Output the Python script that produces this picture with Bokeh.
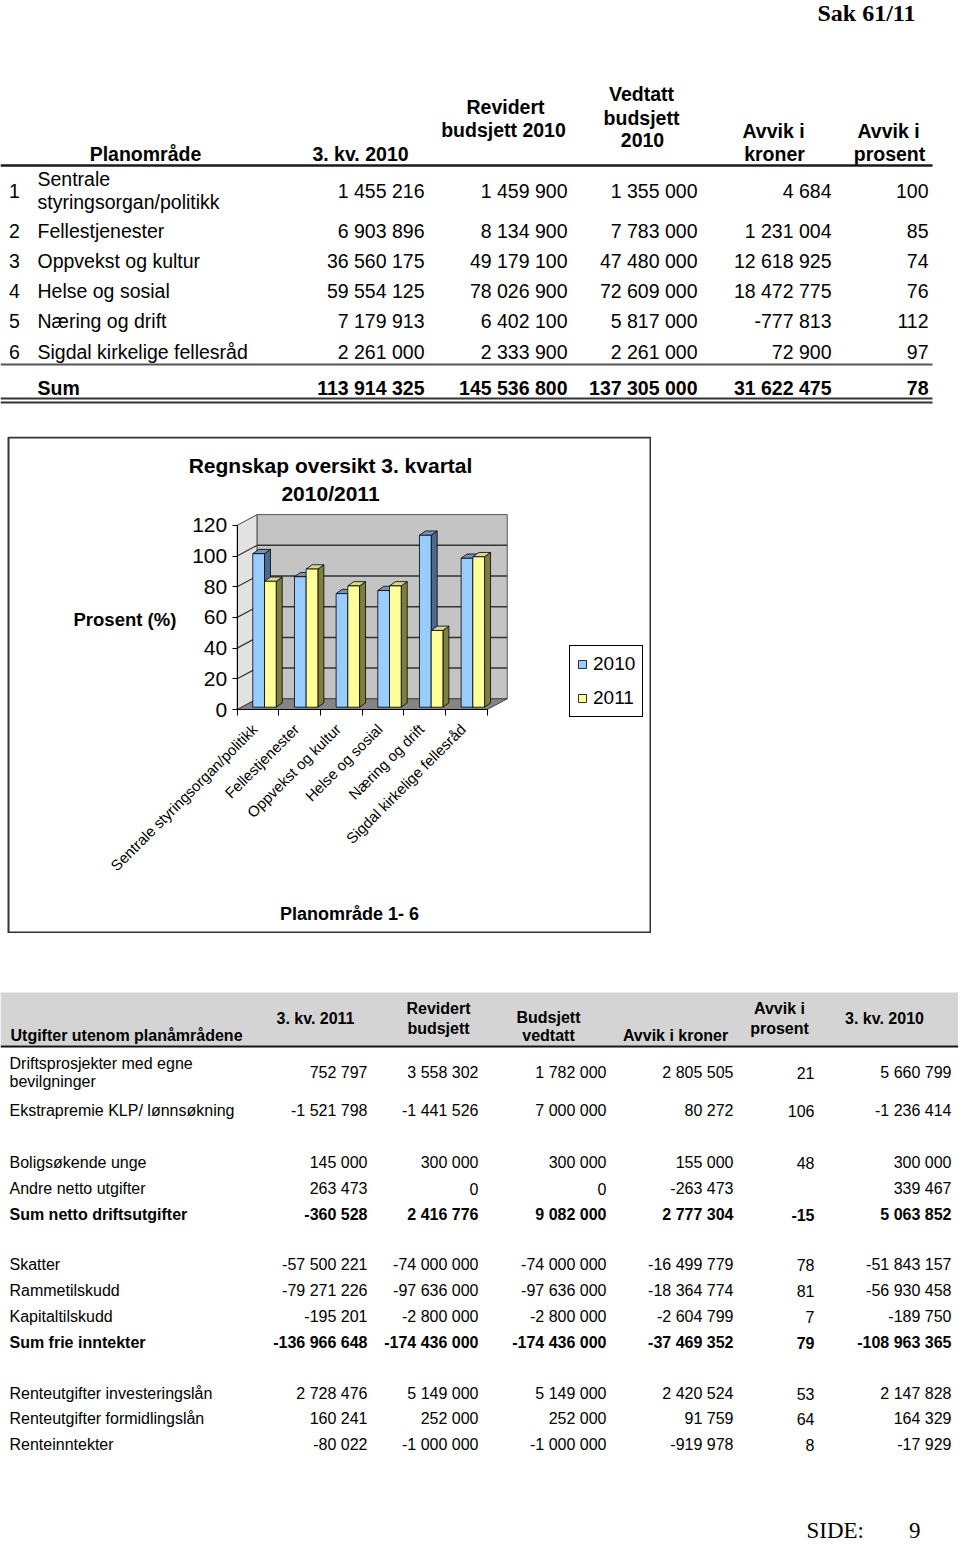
from bokeh.plotting import figure
from bokeh.models import Range1d, FixedTicker, Label, Legend, LegendItem, ColumnDataSource
from bokeh.layouts import column
from bokeh.embed import file_html
from bokeh.resources import INLINE
from bokeh.core.properties import value

FONT = "Liberation Sans"
SERIF = "Liberation Serif"

# ---------------- data: table 1 (planområder) ----------------
omr_nr = ["1", "2", "3", "4", "5", "6"]
omr_names = ["Sentrale styringsorgan/politikk", "Fellestjenester", "Oppvekst og kultur",
             "Helse og sosial", "Næring og drift", "Sigdal kirkelige fellesråd"]
kv3_2010 = [1455216, 6903896, 36560175, 59554125, 7179913, 2261000]
rev_bud_2010 = [1459900, 8134900, 49179100, 78026900, 6402100, 2333900]
vedt_bud_2010 = [1355000, 7783000, 47480000, 72609000, 5817000, 2261000]
avvik_kroner = [4684, 1231004, 12618925, 18472775, -777813, 72900]
avvik_prosent = [100, 85, 74, 76, 112, 97]
sum_label = "Sum"
sum_values = [113914325, 145536800, 137305000, 31622475, 78]

# ---------------- data: chart ----------------
chart_categories = omr_names
pct_2010 = [100, 85, 74, 76, 112, 97]
pct_2011 = [82, 90, 79, 79, 50, 98]
series_names = ["2010", "2011"]
y_ticks = [0, 20, 40, 60, 80, 100, 120]

# ---------------- data: table 2 ----------------
ut_labels = ["Driftsprosjekter med egne bevilgninger", "Ekstrapremie KLP/ lønnsøkning",
             "Boligsøkende unge", "Andre netto utgifter", "Sum  netto driftsutgifter",
             "Skatter", "Rammetilskudd", "Kapitaltilskudd", "Sum frie inntekter",
             "Renteutgifter investeringslån", "Renteutgifter formidlingslån", "Renteinntekter"]
ut_bold = [False, False, False, False, True, False, False, False, True, False, False, False]
ut_kv3_2011 = [752797, -1521798, 145000, 263473, -360528, -57500221, -79271226, -195201,
               -136966648, 2728476, 160241, -80022]
ut_revidert = [3558302, -1441526, 300000, 0, 2416776, -74000000, -97636000, -2800000,
               -174436000, 5149000, 252000, -1000000]
ut_vedtatt = [1782000, 7000000, 300000, 0, 9082000, -74000000, -97636000, -2800000,
              -174436000, 5149000, 252000, -1000000]
ut_avvik_kr = [2805505, 80272, 155000, -263473, 2777304, -16499779, -18364774, -2604799,
               -37469352, 2420524, 91759, -919978]
ut_avvik_pct = [21, 106, 48, None, -15, 78, 81, 7, 79, 53, 64, 8]
ut_kv3_2010 = [5660799, -1236414, 300000, 339467, 5063852, -51843157, -56930458, -189750,
               -108963365, 2147828, 164329, -17929]


def fmt(v):
    if v is None:
        return ""
    return f"{v:,}".replace(",", " ")


def put(p, xs, ys, texts, align="left", size="16px", style="normal", font=FONT, color="#000000"):
    src = ColumnDataSource(dict(x=list(xs), y=list(ys), t=list(texts)))
    p.text(x="x", y="y", text="t", source=src, text_align=align, text_baseline="middle",
           text_font=value(font), text_font_size=size, text_font_style=style, text_color=color)


def no_align(p):
    try:
        p.frame_align = False
    except Exception:
        pass


def blank(width, height, xr, yr):
    p = figure(frame_width=width, frame_height=height, x_range=Range1d(*xr), y_range=Range1d(*yr),
               output_backend="svg", toolbar_location=None, x_axis_location=None,
               y_axis_location=None, min_border=0)
    p.grid.visible = False
    p.outline_line_color = None
    no_align(p)
    return p


PAGE_W = 958

# ================= top section =================
A = blank(PAGE_W, 436, (0, PAGE_W), (436, 0))
put(A, [915], [12], ["Sak 61/11"], align="right", size="24px", style="bold", font=SERIF)

T1 = "19.5px"
hdr_text = ["Planområde", "3. kv. 2010", "Revidert", "budsjett 2010", "Vedtatt", "budsjett",
            "2010", "Avvik i", "kroner", "Avvik i", "prosent"]
hdr_x = [145, 360, 505, 503, 641, 641, 642, 773, 774, 888, 889]
hdr_y = [153, 153, 106, 129, 93, 117, 139, 130, 153, 130, 153]
put(A, hdr_x, hdr_y, hdr_text, align="center", size=T1, style="bold")

row_y = [190, 230, 260, 290, 320, 351]
num_right = [424, 567, 697, 831, 928]
put(A, [14] * 6, row_y, omr_nr, align="center", size=T1)
lab_y = list(row_y)
lab_t = list(omr_names)
first = omr_names[0].split(" ")
lab_t[0] = first[0]
lab_y[0] = 178
lab_t.append(first[1])
lab_y.append(201)
put(A, [37] * len(lab_t), lab_y, lab_t, size=T1)
cols1 = [kv3_2010, rev_bud_2010, vedt_bud_2010, avvik_kroner, avvik_prosent]
for xr, col in zip(num_right, cols1):
    put(A, [xr] * len(col), row_y, [fmt(v) for v in col], align="right", size=T1)
sum_y = 387
put(A, [37], [sum_y], [sum_label], size=T1, style="bold")
put(A, num_right, [sum_y] * 5, [fmt(v) for v in sum_values], align="right", size=T1, style="bold")

A.segment(x0=[0], y0=[165], x1=[932], y1=[165], line_color="#1a1a1a", line_width=2.5)
A.segment(x0=[0], y0=[364], x1=[932], y1=[364], line_color="#555555", line_width=2)
A.segment(x0=[0, 0], y0=[398, 402], x1=[932, 932], y1=[398, 402], line_color="#333333", line_width=2)

# ================= chart =================
CAT_PX = 41.67          # px per category
VAL_PX = 1.535          # px per percent
DX = 20 / CAT_PX        # wall depth (x)
DY = 10.7 / VAL_PX      # wall depth (y)
BX0 = 0.374
BW = 0.281
BY = 1.5
SDX = 6 / CAT_PX
SDY = 4.3 / VAL_PX
LABEL_POS = 0.42        # category-label anchor within a category slot
ymax = y_ticks[-1]
ncat = len(chart_categories)

# chart-area pixel helpers (page pixels -> data units); chart section spans y 436..933
X0_PX, Y0_PX = 236.7, 709.0
CH_TOP, CH_BOT, CH_W = 436, 933, 651


def cx(px):
    return (px - X0_PX) / CAT_PX


def cy(py):
    return (Y0_PX - py) / VAL_PX


B = figure(width=CH_W, height=CH_BOT - CH_TOP,
           x_range=Range1d(cx(0), cx(CH_W)), y_range=Range1d(cy(CH_BOT), cy(CH_TOP)),
           output_backend="svg", toolbar_location=None, title=None, min_border=0)
B.grid.visible = False
B.outline_line_color = None
B.background_fill_color = "white"
no_align(B)

# outer chart box
B.quad(left=[cx(8)], right=[cx(650)], top=[cy(437)], bottom=[cy(932)], fill_alpha=0,
       line_color="#333333", line_width=2)

# walls and floor
B.patch(x=[0, DX, DX, 0], y=[0, DY, ymax + DY, ymax], fill_color="#e2e2e2",
        line_color="#444444", line_width=1)
B.quad(left=[DX], right=[ncat + DX], bottom=[DY], top=[ymax + DY], fill_color="#c4c4c4",
       line_color="#555555", line_width=1)
B.patch(x=[0, ncat, ncat + DX, DX], y=[0, 0, DY, DY], fill_color="#858585",
        line_color="#444444", line_width=1)
levels = y_ticks[1:-1]
B.segment(x0=[DX] * len(levels), y0=[l + DY for l in levels], x1=[ncat + DX] * len(levels),
          y1=[l + DY for l in levels], line_color="#333333", line_width=1.5)
B.segment(x0=[0] * len(levels), y0=levels, x1=[DX] * len(levels),
          y1=[l + DY for l in levels], line_color="#333333", line_width=1.2)

colors = {
    0: ("#99ccff", "#6f95bd", "#4b6b8e"),
    1: ("#ffff99", "#dada80", "#7e7e40"),
}
xs, ys, fc = [], [], []
front_index = {}
for i in range(ncat):
    for s, vals in enumerate([pct_2010, pct_2011]):
        v = vals[i]
        xl = i + BX0 + s * BW
        xr = xl + BW
        top = v + BY
        front, topc, side = colors[s]
        xs.append([xr, xr + SDX, xr + SDX, xr]); ys.append([BY, BY + SDY, top + SDY, top]); fc.append(side)
        xs.append([xl, xr, xr + SDX, xl + SDX]); ys.append([top, top, top + SDY, top + SDY]); fc.append(topc)
        xs.append([xl, xr, xr, xl]); ys.append([BY, BY, top, top]); fc.append(front)
        front_index.setdefault(s, len(fc) - 1)
bars = B.patches(xs="xs", ys="ys", fill_color="fc", line_color="#000000", line_width=0.8,
                 source=ColumnDataSource(dict(xs=xs, ys=ys, fc=fc)))

# axes (drawn at the floor front / left wall edge)
B.yaxis.fixed_location = 0
B.xaxis.fixed_location = 0
B.yaxis.ticker = FixedTicker(ticks=y_ticks, minor_ticks=[])
B.yaxis.bounds = (0, ymax)
B.yaxis.major_tick_out = 5
B.yaxis.major_tick_in = 0
B.yaxis.major_label_standoff = 5
B.yaxis.major_label_text_font = FONT
B.yaxis.major_label_text_font_size = "21px"
B.yaxis.major_label_text_color = "black"
B.yaxis.axis_line_color = "black"

label_ticks = [i + LABEL_POS for i in range(ncat)]
B.xaxis.ticker = FixedTicker(ticks=label_ticks, minor_ticks=list(range(ncat + 1)))
B.xaxis.major_label_overrides = {t: n for t, n in zip(label_ticks, chart_categories)}
B.xaxis.bounds = (0, ncat)
B.xaxis.major_tick_out = 0
B.xaxis.major_tick_in = 0
B.xaxis.minor_tick_out = 6
B.xaxis.minor_tick_in = 0
B.xaxis.minor_tick_line_color = "black"
B.xaxis.major_label_orientation = 0.785398
B.xaxis.major_label_standoff = 11
B.xaxis.major_label_text_font = FONT
B.xaxis.major_label_text_font_size = "15px"
B.xaxis.major_label_text_color = "black"
B.xaxis.axis_line_color = "black"

for txt, py in [("Regnskap oversikt 3. kvartal", 465), ("2010/2011", 493)]:
    B.add_layout(Label(x=cx(330), y=cy(py), text=txt, text_align="center", text_baseline="middle",
                       text_font=FONT, text_font_size="21px", text_font_style="bold",
                       text_color="black"))
B.add_layout(Label(x=cx(73), y=cy(619), text="Prosent (%)", text_align="left", text_baseline="middle",
                   text_font=FONT, text_font_size="18.5px", text_font_style="bold",
                   text_color="black"))
B.add_layout(Label(x=cx(349), y=cy(913), text="Planområde 1- 6", text_align="center",
                   text_baseline="middle", text_font=FONT, text_font_size="18px",
                   text_font_style="bold", text_color="black"))

leg = Legend(items=[LegendItem(label=series_names[0], renderers=[bars], index=front_index[0]),
                    LegendItem(label=series_names[1], renderers=[bars], index=front_index[1])],
             location=(569, CH_BOT - 717), glyph_width=10, glyph_height=10, label_height=22,
             label_standoff=6, spacing=12, padding=7, margin=0,
             label_text_font=FONT, label_text_font_size="19px", label_text_color="black",
             border_line_color="black", border_line_width=1.2, border_line_alpha=1,
             background_fill_alpha=1)
B.add_layout(leg)

# ================= bottom section =================
C = blank(PAGE_W, 610, (0, PAGE_W), (1543, 933))
C.quad(left=[0], right=[958], top=[992], bottom=[1045], fill_color="#d4d4d4", line_color=None)
C.segment(x0=[0], y0=[1046], x1=[958], y1=[1046], line_color="#111111", line_width=2)

put(C, [10], [1035], ["Utgifter utenom planåmrådene"], size="16px", style="bold")
h2_text = ["3. kv. 2011", "Revidert", "budsjett", "Budsjett", "vedtatt", "Avvik i kroner",
           "Avvik i", "prosent", "3. kv. 2010"]
h2_x = [315, 438, 438, 548, 548, 675, 779, 779, 884]
h2_y = [1018, 1008, 1028, 1017, 1035, 1035, 1008, 1028, 1018]
put(C, h2_x, h2_y, h2_text, align="center", size="16px", style="bold")

bt_row_y = [1072, 1110, 1162, 1188, 1214, 1264, 1290, 1316, 1342, 1393, 1418, 1444]
bt_right = [367, 478, 606, 733, 814, 951]
cols2 = [ut_kv3_2011, ut_revidert, ut_vedtatt, ut_avvik_kr, ut_avvik_pct, ut_kv3_2010]
for i, lab in enumerate(ut_labels):
    st = "bold" if ut_bold[i] else "normal"
    if i == 0:
        put(C, [9, 9], [1063, 1081], ["Driftsprosjekter med egne", "bevilgninger"], size="16px")
    else:
        put(C, [9], [bt_row_y[i]], [lab], size="16px", style=st)
    put(C, bt_right, [bt_row_y[i]] * 6, [fmt(col[i]) for col in cols2], align="right",
        size="16px", style=st)

put(C, [806], [1530], ["SIDE:"], size="23px", font=SERIF)
put(C, [920], [1530], ["9"], align="right", size="23px", font=SERIF)

page = column(A, B, C, spacing=0)
open("out.html", "w").write(file_html(page, INLINE))
